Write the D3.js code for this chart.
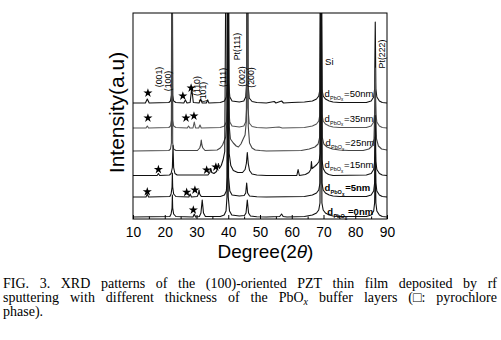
<!DOCTYPE html>
<html><head><meta charset="utf-8">
<script src="https://cdn.jsdelivr.net/npm/d3@7"></script>
<style>
html,body{margin:0;padding:0;background:#fff;}
svg{display:block;}
</style></head>
<body><svg id="chart" width="501" height="340"></svg>
<script>
// ---------- data (angles in degrees 2θ, intensities in a.u.) ----------
const xTicks = [10,20,30,40,50,60,70,80,90];
const xMinorTicks = [15,25,35,45,55,65,75,85];
const sampleNames = ["=50nm","=35nm","=25nm","=15nm","=5nm","=0nm"];
const sampleOffsets = [116,91,68,43.5,22,2];
const sampleLabelPos = [[70.3,122.3],[70.3,97.5],[70.6,73],[70.3,51],[70.3,28],[71.2,4]];

const trace50 = [[10,0],[13.9,0],[14.5,4],[15.1,0],[21.3,0.5],[21.8,2],[22.1,8],[22.3,300],[22.5,8],[22.8,2],[23.5,0.5],[26.0,0],[26.5,3],[27.0,0],[28.0,0.5],[28.5,15],[29.0,0.5],[30.8,0],[31.3,4],[31.8,0],[33.1,0],[33.5,3],[33.9,0],[37.5,0.5],[38.8,2],[39.4,6],[39.7,20],[39.9,300],[40.1,20],[40.5,6],[41.2,2],[43.5,1],[44.9,2],[45.5,6],[45.8,20],[46.0,300],[46.2,20],[46.6,5],[47.5,1.5],[49,0.5],[52,0],[54.5,1.5],[55,0],[56.8,2],[57.4,0],[60,0.5],[64,1],[66.5,2],[67.8,4],[68.5,7],[68.9,14],[69.2,300],[69.5,14],[69.9,7],[70.6,4],[71.8,2],[73,1],[75,0.5],[83.5,0.5],[85.0,2],[85.8,6],[86.1,14],[86.3,81],[86.5,14],[86.8,6],[87.6,2],[88.5,0.5],[90,0]];
const trace35 = [[10,0],[14.1,0],[14.5,2],[14.9,0],[21.3,0.5],[21.8,2],[22.1,8],[22.3,300],[22.5,8],[22.8,2],[23.5,0.5],[27.1,0],[27.5,2],[27.9,0],[28.9,0],[29.3,6],[29.7,0],[30.7,0],[31.1,3],[31.5,0],[37.5,0.5],[38.8,2],[39.4,6],[39.7,20],[39.9,300],[40.1,20],[40.5,6],[41.2,2],[43.5,1],[44.9,2],[45.5,6],[45.8,20],[46.0,300],[46.2,20],[46.6,5],[47.5,1.5],[49,0.5],[52,0],[56,1],[57,0],[64,0.5],[66.5,2],[67.8,4],[68.5,7],[68.9,14],[69.2,300],[69.5,14],[69.9,7],[70.6,4],[71.8,2],[73,1],[75,0.5],[83.5,0.5],[85.0,2],[85.8,6],[86.1,14],[86.3,60],[86.5,14],[86.8,6],[87.6,2],[88.5,0.5],[90,0]];
const trace25 = [[10,0],[21.3,0.5],[21.8,2],[22.1,8],[22.3,300],[22.5,8],[22.8,2],[23.5,0.5],[30.3,0.5],[31.0,3],[31.3,6],[31.5,11],[31.7,6],[32.0,3],[32.7,0.5],[36.5,1],[37.5,3],[38.2,6],[38.7,10],[39.2,14],[39.6,30],[39.8,300],[40.0,300],[40.3,25],[40.7,12],[41.6,8],[42.5,5],[43.2,4],[44.0,7],[44.7,12],[45.3,16],[45.7,30],[46.0,300],[46.3,25],[46.7,8],[47.5,3],[48.5,1],[50,0.5],[52,0],[63,0.5],[65.5,2],[67.3,4],[68.3,7],[68.8,14],[69.2,300],[69.6,14],[70.1,7],[71.1,4],[72.8,2],[75,1],[78,0.5],[82.5,0.5],[84.3,2],[85.3,5],[85.9,12],[86.3,60],[86.7,12],[87.3,5],[88.3,2],[90,1]];
const trace15 = [[10,0],[17.6,0],[18.0,2],[18.4,0],[21.5,0.5],[22.0,2],[22.4,8],[22.6,30],[22.8,8],[23.2,2],[23.9,0.5],[33.6,0.5],[34.2,3],[34.5,7],[34.8,3],[35.5,2],[36.3,4],[36.7,8],[36.9,12],[37.2,7],[37.8,10],[38.4,16],[38.9,24],[39.4,300],[39.9,300],[40.3,22],[40.8,10],[41.6,5],[43,3],[44.5,3],[45.3,6],[45.7,12],[46.0,23],[46.3,12],[46.7,5],[47.5,1.5],[49,0.5],[52,0],[61.6,0],[62.0,6],[62.4,0],[64.3,1],[65.4,3],[66.0,6],[66.2,14],[66.4,7],[67.2,9],[67.9,11],[68.6,14],[69.0,22],[69.2,300],[69.5,16],[69.9,7],[70.6,3],[71.6,1],[73,0],[83.5,0.5],[85.0,2],[85.8,6],[86.1,14],[86.3,60],[86.5,14],[86.8,6],[87.6,2],[88.5,0.5],[90,0]];
const trace5 = [[10,0],[14.1,0],[14.5,3],[14.9,0],[21.6,0.5],[22.0,3],[22.3,10],[22.4,24],[22.5,10],[22.8,3],[23.5,0.5],[27.6,0],[28.0,3],[28.4,0],[30.2,0.5],[30.6,3],[30.8,7],[31.0,3],[31.5,0.5],[37.5,0.5],[38.8,2],[39.4,6],[39.7,20],[39.9,300],[40.1,20],[40.5,6],[41.2,2],[43.5,1],[45.0,1.5],[45.5,4],[45.8,14],[46.1,4],[46.7,1],[49,0.3],[52,0],[64,0.5],[66.5,2],[67.8,4],[68.5,7],[68.9,14],[69.2,300],[69.5,14],[69.9,7],[70.6,4],[71.8,2],[73,1],[75,0.5],[83.5,0.5],[85.0,2],[85.8,6],[86.1,14],[86.3,60],[86.5,14],[86.8,6],[87.6,2],[88.5,0.5],[90,0]];
const trace0 = [[10,0],[21.6,0.5],[22.0,3],[22.3,9],[22.4,22],[22.5,9],[22.8,3],[23.5,0.5],[28.9,0],[29.3,3],[29.7,0],[30.9,0.5],[31.4,4],[31.8,17],[32.2,4],[32.8,0.5],[37.5,0.5],[38.7,2],[39.3,6],[39.6,20],[39.8,300],[40.0,20],[40.4,6],[41.1,2],[43.5,1],[45.1,1.5],[45.6,4],[46.0,17],[46.4,4],[47,1],[49,0.3],[52,0],[56.2,0.5],[56.8,3],[57.3,0.5],[58.5,0],[64,0.5],[66.5,2],[67.8,4],[68.5,7],[68.9,14],[69.2,300],[69.5,14],[69.9,7],[70.6,4],[71.8,2],[73,1],[75,0.5],[83.5,0.5],[85.0,2],[85.8,6],[86.1,14],[86.3,60],[86.5,14],[86.8,6],[87.6,2],[88.5,0.5],[90,0]];
const traces = [trace50, trace35, trace25, trace15, trace5, trace0];

// pyrochlore markers [2θ, absolute intensity]
const starMarks = [[14.7,126],[25.7,123],[28.3,131],[14.7,101],[26.7,101],[29.2,103],[18.0,49.5],[33.2,49],[36.1,52],[14.5,27.3],[26.9,26.7],[29.5,29],[29.0,9]];

// peak labels [text, 2θ, intensity]
const peakLabels = [["(001)",18.3,142],["(100)",21.1,138],["(110)",30.0,133],["(101)",32.0,127],["(111)",38.3,141.5],["Pt(111)",42.6,172.5],["(002)",44.2,142.5],["(200)",47.2,141.5],["Pt(222)",88.3,165]];
const siLabel = ["Si",70.5,154];

const captionLines = [
  "FIG. 3. XRD patterns of the (100)-oriented PZT thin film deposited by rf",
  "sputtering with different thickness of the PbO|x| buffer layers (\u25A1: pyrochlore",
  "phase)."
];

// ---------- drawing ----------
const svg = d3.select("#chart");
svg.append("rect").attr("width",501).attr("height",340).attr("fill","#fff");
const x = d3.scaleLinear().domain([10,90]).range([133,387]);
const y = d3.scaleLinear().domain([0,206]).range([219,13]);
const sans = "'Liberation Sans', Arial, Helvetica, sans-serif";

svg.append("defs").append("clipPath").attr("id","plotClip").append("rect")
  .attr("x",x(10)).attr("y",y(206)).attr("width",x(90)-x(10)).attr("height",y(0)-y(206));

const traceColors = ["#111","#555","#444","#111","#111","#111"];
const gTr = svg.append("g").attr("clip-path","url(#plotClip)");
traces.forEach((tr,i)=>{
  const off = sampleOffsets[i];
  const line = d3.line().x(d=>x(d[0])).y(d=>y(d[1]+off));
  gTr.append("path").attr("d",line(tr)).attr("fill","none")
    .attr("stroke",traceColors[i]).attr("stroke-width",1.1).attr("stroke-linejoin","round");
});

// stars
svg.append("g").selectAll("path").data(starMarks).join("path")
  .attr("d", d3.symbol().type(d3.symbolStar).size(26))
  .attr("transform", d=>`translate(${x(d[0])},${y(d[1])})`)
  .attr("fill","#000");

// frame
svg.append("rect").attr("x",x(10)).attr("y",y(206)).attr("width",x(90)-x(10)).attr("height",y(0)-y(206))
  .attr("fill","none").attr("stroke","#000").attr("stroke-width",1);

// x axis
const gx = svg.append("g").attr("transform",`translate(0,${y(0)})`)
  .call(d3.axisBottom(x).tickValues(xTicks).tickSizeInner(-4).tickSizeOuter(0).tickPadding(8.3));
gx.select(".domain").remove();
gx.selectAll("text").attr("font-family",sans).attr("font-size","13.8px").attr("fill","#000");
gx.selectAll("line").attr("stroke","#000");
const gxm = svg.append("g").attr("transform",`translate(0,${y(0)})`)
  .call(d3.axisBottom(x).tickValues(xMinorTicks).tickSizeInner(-2.5).tickSizeOuter(0).tickFormat(""));
gxm.select(".domain").remove();
gxm.selectAll("line").attr("stroke","#000");

// axis titles
const xt = svg.append("text").attr("x",265.5).attr("y",257.5).attr("text-anchor","middle")
  .attr("font-family",sans).attr("font-size","19px").attr("fill","#000");
xt.append("tspan").text("Degree(2");
xt.append("tspan").attr("font-style","italic").text("\u03B8");
xt.append("tspan").text(")");
svg.append("text").attr("transform","translate(124,112.5) rotate(-90)").attr("text-anchor","middle")
  .attr("font-family",sans).attr("font-size","21px").attr("fill","#000").text("Intensity(a.u)");

// peak labels
svg.append("g").selectAll("text").data(peakLabels).join("text")
  .attr("transform", d=>`translate(${x(d[1])},${y(d[2])}) rotate(-90)`)
  .attr("text-anchor","middle").attr("dominant-baseline","central")
  .attr("font-family",sans).attr("font-size","8.8px").attr("fill","#000")
  .text(d=>d[0]);
svg.append("text").attr("x",x(siLabel[1])).attr("y",y(siLabel[2]))
  .attr("font-family",sans).attr("font-size","9.5px").attr("fill","#000").text(siLabel[0]);

// sample labels
sampleNames.forEach((nm,i)=>{
  const p = sampleLabelPos[i];
  const t = svg.append("text").attr("x",x(p[0])).attr("y",y(p[1]))
    .attr("font-family",sans).attr("fill","#000")
    .attr("font-weight", i>=4 ? "bold" : "normal");
  t.append("tspan").attr("font-size","9.5px").text("d");
  t.append("tspan").attr("font-size","5.5px").attr("dy",3).attr("dx",0.3).text("PbO");
  t.append("tspan").attr("font-size","4.5px").attr("dy",1.5).text("x");
  t.append("tspan").attr("font-size","9.5px").attr("dy",-4.5).attr("dx",0.8).text(nm);
});

// caption
const serif = "'Liberation Serif', 'Times New Roman', Times, serif";
const capX0 = 3, capX1 = 497;
const capBase = [288.3, 302.3, 316.3];
captionLines.forEach((ln,i)=>{
  const t = svg.append("text").attr("x",capX0).attr("y",capBase[i])
    .attr("font-family",serif).attr("font-size","14px").attr("fill","#000");
  const parts = ln.split("|");
  parts.forEach((pt,j)=>{
    if (j%2===1) {
      t.append("tspan").attr("font-style","italic").attr("font-size","10px").attr("dy",3).text(pt);
    } else {
      const ts = t.append("tspan").text(pt);
      if (j>0) ts.attr("dy",-3);
    }
  });
  if (i < captionLines.length-1) {
    const node = t.node();
    let w = node.getComputedTextLength();
    const target = capX1 - capX0;
    if (w > target) {
      const fs = 14*target/w - 0.1;
      t.attr("font-size",fs+"px");
      w = node.getComputedTextLength();
    }
    const nSpaces = (ln.match(/ /g)||[]).length;
    const ws = (target - w)/nSpaces;
    t.attr("word-spacing", ws);
    const w2 = node.getComputedTextLength();
    if (Math.abs(w2 - target) > 3) {
      t.attr("word-spacing", null).attr("textLength", target).attr("lengthAdjust","spacing");
    }
  }
});
</script>
</body></html>
